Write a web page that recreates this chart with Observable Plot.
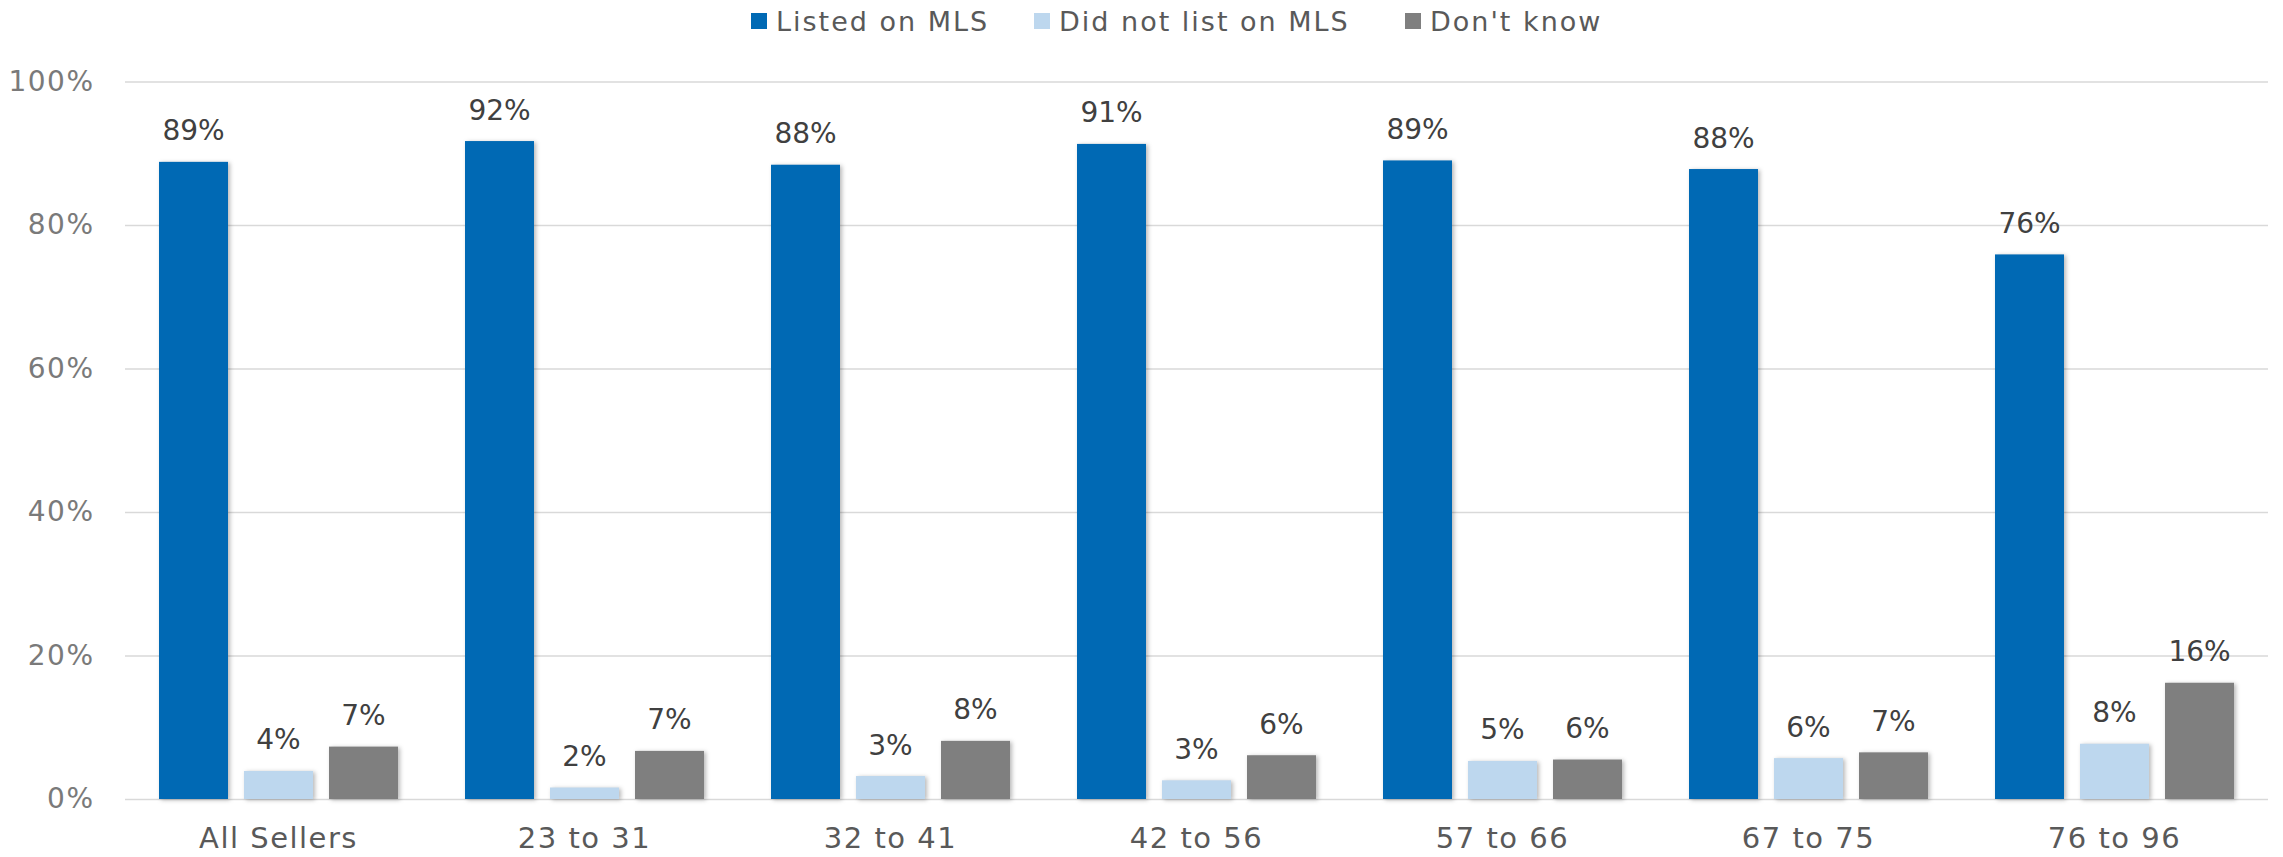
<!DOCTYPE html>
<html>
<head>
<meta charset="utf-8">
<script src="https://cdn.jsdelivr.net/npm/d3@7"></script>
<script src="https://cdn.jsdelivr.net/npm/@observablehq/plot@0.6"></script>
<style>
  html, body { margin: 0; padding: 0; background: #fff; }
  body { width: 2283px; height: 857px; position: relative; overflow: hidden; font-family: "DejaVu Sans", sans-serif; }
  #legend { position: absolute; top: 3px; left: 0; width: 2283px; height: 36px; }
  .item { position: absolute; top: 0; display: flex; align-items: center; height: 36px; font-size: 27px; color: #595959; font-weight: 400; letter-spacing: 2px; white-space: nowrap; }
  .sw { width: 16px; height: 16px; margin-right: 9px; display: inline-block; }
  #chart { position: absolute; top: 40px; left: 0; }
  #chart g[aria-label="bar"] rect { filter: drop-shadow(2px 1px 2px rgba(0,0,0,0.28)); }
</style>
</head>
<body>
<div id="legend"></div>
<div id="chart"></div>
<script>
// ---- data ----
const groups = ["All Sellers", "23 to 31", "32 to 41", "42 to 56", "57 to 66", "67 to 75", "76 to 96"];
const seriesNames = ["Listed on MLS", "Did not list on MLS", "Don't know"];
const listed    = [88.8, 91.7, 88.4, 91.3, 89.0, 87.8, 75.9];
const notListed = [3.9, 1.6, 3.2, 2.6, 5.3, 5.7, 7.7];
const dontKnow  = [7.3, 6.7, 8.1, 6.1, 5.5, 6.5, 16.2];
const yTicks = [0, 20, 40, 60, 80, 100];
const colors = ["#0069B4", "#BDD7EE", "#7F7F7F"];

const seriesValues = [listed, notListed, dontKnow];
const rows = [];
seriesValues.forEach((vals, si) => vals.forEach((v, gi) => rows.push({group: groups[gi], series: seriesNames[si], si, value: v})));

// legend
const legendLeft = [751, 1034, 1405];
const legend = document.getElementById("legend");
seriesNames.forEach((s, i) => {
  const it = document.createElement("div");
  it.className = "item";
  it.style.left = legendLeft[i] + "px";
  it.innerHTML = `<span class="sw" style="background:${colors[i]}"></span><span>${s}</span>`;
  legend.appendChild(it);
});

const barW = 69, step = 85, band = 238;
const marks = [
  Plot.ruleY(yTicks, {stroke: "#d9d9d9", strokeWidth: 1.5})
];
seriesNames.forEach((s, i) => {
  const data = rows.filter(r => r.si === i);
  marks.push(Plot.barY(data, {
    x: "group", y: "value", fill: colors[i],
    insetLeft: i * step, insetRight: band - barW - i * step
  }));
  marks.push(Plot.text(data, {
    x: "group", y: "value", text: d => Math.round(d.value) + "%",
    dx: (i - 1) * step, dy: -31, lineAnchor: "middle",
    fill: "#404040", fontSize: 28, fontWeight: 400, letterSpacing: 1.5
  }));
});

const chart = Plot.plot({
  width: 2283, height: 817,
  marginLeft: 125, marginRight: 15, marginTop: 41.5, marginBottom: 58,
  style: {fontFamily: "DejaVu Sans, sans-serif", background: "#fff"},
  x: {domain: groups, paddingInner: 0.222, paddingOuter: 0.111, label: null, tickSize: 0, tickPadding: 28},
  y: {domain: [0, 100], ticks: yTicks, tickFormat: d => d + "%", tickSize: 0, tickPadding: 31, label: null},
  marks
});
const xl = chart.querySelector('g[aria-label="x-axis tick label"]');
if (xl) { xl.setAttribute("font-size", 29); xl.setAttribute("fill", "#595959"); xl.setAttribute("letter-spacing", 1.5); }
const yl = chart.querySelector('g[aria-label="y-axis tick label"]');
if (yl) { yl.setAttribute("font-size", 28); yl.setAttribute("fill", "#7a7a7a"); yl.setAttribute("letter-spacing", 1.5); }
document.getElementById("chart").appendChild(chart);
</script>
</body>
</html>
